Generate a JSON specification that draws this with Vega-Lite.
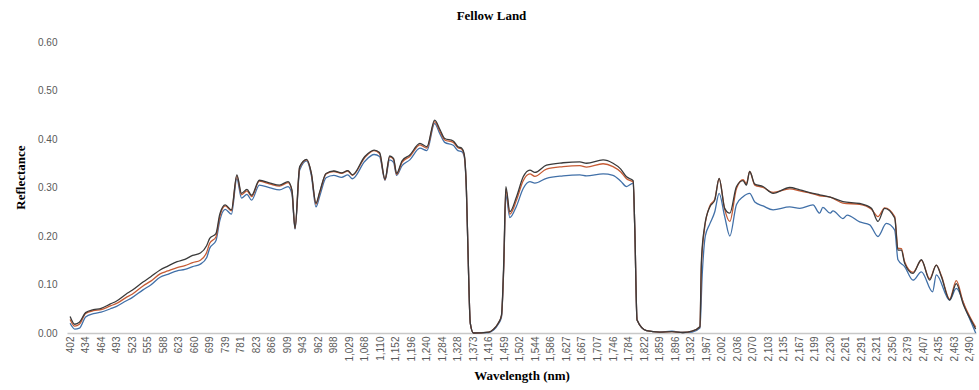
{
"$schema":"https://vega.github.io/schema/vega-lite/v6.json",
"width":909,"height":291,
"autosize":{"type":"none"},
"padding":{"left":67,"top":42,"right":3,"bottom":57},
"background":"white",
"title":{"text":"Fellow Land","font":"Liberation Serif","fontSize":13,"fontWeight":"bold","color":"#000000","offset":14,"dx":-30},
"datasets":{
"blue":[{"p":0,"r":0.020},{"p":0.3,"r":0.008},{"p":0.6,"r":0.010},{"p":1.0,"r":0.033},{"p":1.5,"r":0.040},{"p":2.0,"r":0.043},{"p":2.6,"r":0.050},{"p":3.0,"r":0.055},{"p":3.6,"r":0.066},{"p":4.0,"r":0.073},{"p":4.7,"r":0.089},{"p":5.2,"r":0.099},{"p":5.8,"r":0.115},{"p":6.3,"r":0.121},{"p":6.9,"r":0.128},{"p":7.4,"r":0.131},{"p":7.9,"r":0.137},{"p":8.4,"r":0.142},{"p":8.8,"r":0.155},{"p":9.0,"r":0.175},{"p":9.4,"r":0.190},{"p":9.65,"r":0.232},{"p":10.0,"r":0.255},{"p":10.4,"r":0.245},{"p":10.75,"r":0.318},{"p":11.05,"r":0.278},{"p":11.4,"r":0.286},{"p":11.7,"r":0.274},{"p":12.2,"r":0.305},{"p":12.9,"r":0.299},{"p":13.5,"r":0.295},{"p":14.05,"r":0.302},{"p":14.3,"r":0.287},{"p":14.5,"r":0.214},{"p":14.8,"r":0.336},{"p":15.25,"r":0.355},{"p":15.55,"r":0.325},{"p":15.85,"r":0.260},{"p":16.1,"r":0.283},{"p":16.5,"r":0.320},{"p":17.0,"r":0.325},{"p":17.5,"r":0.321},{"p":17.9,"r":0.326},{"p":18.2,"r":0.318},{"p":19.0,"r":0.354},{"p":19.6,"r":0.368},{"p":19.95,"r":0.364},{"p":20.3,"r":0.315},{"p":20.6,"r":0.357},{"p":20.85,"r":0.352},{"p":21.05,"r":0.325},{"p":21.4,"r":0.345},{"p":21.9,"r":0.357},{"p":22.55,"r":0.381},{"p":23.0,"r":0.376},{"p":23.5,"r":0.432},{"p":23.85,"r":0.410},{"p":24.15,"r":0.393},{"p":24.7,"r":0.387},{"p":25.0,"r":0.376},{"p":25.25,"r":0.374},{"p":25.4,"r":0.365},{"p":25.55,"r":0.29},{"p":25.65,"r":0.17},{"p":25.8,"r":0.02},{"p":26.0,"r":0.0},{"p":27.0,"r":0.001},{"p":27.3,"r":0.006},{"p":27.6,"r":0.018},{"p":27.81,"r":0.033},{"p":27.96,"r":0.14},{"p":28.09,"r":0.285},{"p":28.35,"r":0.238},{"p":28.78,"r":0.262},{"p":29.21,"r":0.298},{"p":29.64,"r":0.312},{"p":29.96,"r":0.309},{"p":30.71,"r":0.319},{"p":31.78,"r":0.324},{"p":32.86,"r":0.326},{"p":33.29,"r":0.324},{"p":34.36,"r":0.328},{"p":35.0,"r":0.325},{"p":35.5,"r":0.313},{"p":35.87,"r":0.302},{"p":36.3,"r":0.309},{"p":36.4,"r":0.219},{"p":36.55,"r":0.027},{"p":37.16,"r":0.005},{"p":38.0,"r":0.002},{"p":38.8,"r":0.004},{"p":39.5,"r":0.001},{"p":40.1,"r":0.002},{"p":40.6,"r":0.01},{"p":40.75,"r":0.12},{"p":40.95,"r":0.2},{"p":41.24,"r":0.225},{"p":41.56,"r":0.25},{"p":41.84,"r":0.288},{"p":42.2,"r":0.24},{"p":42.53,"r":0.2},{"p":42.96,"r":0.265},{"p":43.38,"r":0.281},{"p":43.81,"r":0.288},{"p":44.14,"r":0.27},{"p":44.67,"r":0.262},{"p":45.32,"r":0.254},{"p":46.39,"r":0.26},{"p":47.04,"r":0.257},{"p":47.89,"r":0.264},{"p":48.32,"r":0.247},{"p":48.53,"r":0.259},{"p":49.0,"r":0.247},{"p":49.18,"r":0.252},{"p":49.82,"r":0.236},{"p":50.1,"r":0.243},{"p":50.9,"r":0.229},{"p":51.55,"r":0.223},{"p":52.08,"r":0.199},{"p":52.62,"r":0.226},{"p":53.16,"r":0.212},{"p":53.37,"r":0.151},{"p":53.8,"r":0.137},{"p":54.34,"r":0.109},{"p":54.88,"r":0.126},{"p":55.6,"r":0.085},{"p":55.84,"r":0.120},{"p":56.7,"r":0.068},{"p":57.13,"r":0.092},{"p":57.77,"r":0.046},{"p":58.38,"r":0.0}],
"orange":[{"p":0,"r":0.028},{"p":0.3,"r":0.014},{"p":0.6,"r":0.018},{"p":1.0,"r":0.040},{"p":1.5,"r":0.046},{"p":2.0,"r":0.048},{"p":2.6,"r":0.056},{"p":3.0,"r":0.061},{"p":3.6,"r":0.073},{"p":4.0,"r":0.080},{"p":4.7,"r":0.097},{"p":5.2,"r":0.107},{"p":5.8,"r":0.122},{"p":6.3,"r":0.128},{"p":6.9,"r":0.135},{"p":7.4,"r":0.139},{"p":7.9,"r":0.145},{"p":8.4,"r":0.150},{"p":8.8,"r":0.166},{"p":9.0,"r":0.185},{"p":9.4,"r":0.198},{"p":9.65,"r":0.240},{"p":10.0,"r":0.262},{"p":10.4,"r":0.252},{"p":10.75,"r":0.324},{"p":11.05,"r":0.285},{"p":11.4,"r":0.293},{"p":11.7,"r":0.281},{"p":12.2,"r":0.313},{"p":12.9,"r":0.307},{"p":13.5,"r":0.303},{"p":14.05,"r":0.310},{"p":14.3,"r":0.293},{"p":14.5,"r":0.216},{"p":14.8,"r":0.341},{"p":15.25,"r":0.357},{"p":15.55,"r":0.329},{"p":15.85,"r":0.266},{"p":16.1,"r":0.290},{"p":16.5,"r":0.328},{"p":17.0,"r":0.333},{"p":17.5,"r":0.329},{"p":17.9,"r":0.334},{"p":18.2,"r":0.325},{"p":19.0,"r":0.362},{"p":19.6,"r":0.376},{"p":19.95,"r":0.370},{"p":20.3,"r":0.316},{"p":20.6,"r":0.363},{"p":20.85,"r":0.358},{"p":21.05,"r":0.327},{"p":21.4,"r":0.352},{"p":21.9,"r":0.364},{"p":22.55,"r":0.388},{"p":23.0,"r":0.381},{"p":23.5,"r":0.436},{"p":23.85,"r":0.415},{"p":24.15,"r":0.398},{"p":24.7,"r":0.393},{"p":25.0,"r":0.382},{"p":25.25,"r":0.379},{"p":25.4,"r":0.368},{"p":25.55,"r":0.293},{"p":25.65,"r":0.17},{"p":25.8,"r":0.02},{"p":26.0,"r":0.0},{"p":27.0,"r":0.002},{"p":27.3,"r":0.008},{"p":27.6,"r":0.02},{"p":27.81,"r":0.036},{"p":27.96,"r":0.14},{"p":28.09,"r":0.296},{"p":28.35,"r":0.245},{"p":28.78,"r":0.274},{"p":29.21,"r":0.314},{"p":29.64,"r":0.328},{"p":29.96,"r":0.323},{"p":30.71,"r":0.338},{"p":31.78,"r":0.343},{"p":32.86,"r":0.345},{"p":33.29,"r":0.342},{"p":34.36,"r":0.349},{"p":35.0,"r":0.343},{"p":35.5,"r":0.332},{"p":35.87,"r":0.318},{"p":36.3,"r":0.311},{"p":36.4,"r":0.219},{"p":36.55,"r":0.027},{"p":37.16,"r":0.005},{"p":38.0,"r":0.002},{"p":38.8,"r":0.003},{"p":39.5,"r":0.001},{"p":40.1,"r":0.004},{"p":40.6,"r":0.013},{"p":40.7,"r":0.14},{"p":40.9,"r":0.215},{"p":41.24,"r":0.262},{"p":41.56,"r":0.276},{"p":41.84,"r":0.318},{"p":42.2,"r":0.255},{"p":42.53,"r":0.23},{"p":42.96,"r":0.298},{"p":43.38,"r":0.316},{"p":43.6,"r":0.308},{"p":43.81,"r":0.333},{"p":44.14,"r":0.305},{"p":44.67,"r":0.300},{"p":45.32,"r":0.290},{"p":46.39,"r":0.297},{"p":47.04,"r":0.293},{"p":47.89,"r":0.287},{"p":48.32,"r":0.283},{"p":49.0,"r":0.280},{"p":49.82,"r":0.268},{"p":50.9,"r":0.265},{"p":51.66,"r":0.255},{"p":52.08,"r":0.24},{"p":52.51,"r":0.258},{"p":53.16,"r":0.24},{"p":53.37,"r":0.175},{"p":53.59,"r":0.174},{"p":53.8,"r":0.147},{"p":54.34,"r":0.125},{"p":54.88,"r":0.150},{"p":55.41,"r":0.112},{"p":55.84,"r":0.140},{"p":56.17,"r":0.118},{"p":56.7,"r":0.07},{"p":57.13,"r":0.108},{"p":57.56,"r":0.065},{"p":58.2,"r":0.022},{"p":58.38,"r":0.012}],
"black":[{"p":0,"r":0.034},{"p":0.3,"r":0.018},{"p":0.6,"r":0.022},{"p":1.0,"r":0.042},{"p":1.5,"r":0.048},{"p":2.0,"r":0.051},{"p":2.6,"r":0.060},{"p":3.0,"r":0.066},{"p":3.6,"r":0.080},{"p":4.0,"r":0.088},{"p":4.7,"r":0.105},{"p":5.2,"r":0.116},{"p":5.8,"r":0.130},{"p":6.3,"r":0.138},{"p":6.9,"r":0.147},{"p":7.4,"r":0.152},{"p":7.9,"r":0.160},{"p":8.4,"r":0.165},{"p":8.8,"r":0.180},{"p":9.0,"r":0.195},{"p":9.4,"r":0.205},{"p":9.65,"r":0.245},{"p":10.0,"r":0.264},{"p":10.4,"r":0.254},{"p":10.75,"r":0.326},{"p":11.05,"r":0.288},{"p":11.4,"r":0.296},{"p":11.7,"r":0.284},{"p":12.2,"r":0.315},{"p":12.9,"r":0.309},{"p":13.5,"r":0.305},{"p":14.05,"r":0.312},{"p":14.3,"r":0.295},{"p":14.5,"r":0.216},{"p":14.8,"r":0.343},{"p":15.25,"r":0.358},{"p":15.55,"r":0.33},{"p":15.85,"r":0.268},{"p":16.1,"r":0.292},{"p":16.5,"r":0.329},{"p":17.0,"r":0.334},{"p":17.5,"r":0.330},{"p":17.9,"r":0.335},{"p":18.2,"r":0.326},{"p":19.0,"r":0.364},{"p":19.6,"r":0.377},{"p":19.95,"r":0.372},{"p":20.3,"r":0.317},{"p":20.6,"r":0.365},{"p":20.85,"r":0.360},{"p":21.05,"r":0.329},{"p":21.4,"r":0.355},{"p":21.9,"r":0.367},{"p":22.55,"r":0.391},{"p":23.0,"r":0.384},{"p":23.5,"r":0.439},{"p":23.85,"r":0.419},{"p":24.15,"r":0.401},{"p":24.7,"r":0.396},{"p":25.0,"r":0.384},{"p":25.25,"r":0.381},{"p":25.4,"r":0.370},{"p":25.55,"r":0.295},{"p":25.65,"r":0.17},{"p":25.8,"r":0.02},{"p":26.0,"r":0.0},{"p":27.0,"r":0.002},{"p":27.3,"r":0.008},{"p":27.6,"r":0.02},{"p":27.81,"r":0.037},{"p":27.96,"r":0.15},{"p":28.09,"r":0.302},{"p":28.35,"r":0.25},{"p":28.78,"r":0.281},{"p":29.21,"r":0.322},{"p":29.64,"r":0.336},{"p":29.96,"r":0.331},{"p":30.71,"r":0.346},{"p":31.78,"r":0.351},{"p":32.86,"r":0.353},{"p":33.29,"r":0.350},{"p":34.36,"r":0.357},{"p":35.0,"r":0.350},{"p":35.5,"r":0.338},{"p":35.87,"r":0.322},{"p":36.3,"r":0.314},{"p":36.4,"r":0.219},{"p":36.55,"r":0.027},{"p":37.16,"r":0.005},{"p":38.0,"r":0.002},{"p":38.8,"r":0.003},{"p":39.5,"r":0.001},{"p":40.1,"r":0.004},{"p":40.6,"r":0.013},{"p":40.7,"r":0.15},{"p":40.9,"r":0.219},{"p":41.24,"r":0.26},{"p":41.56,"r":0.274},{"p":41.84,"r":0.319},{"p":42.2,"r":0.257},{"p":42.53,"r":0.247},{"p":42.96,"r":0.302},{"p":43.38,"r":0.314},{"p":43.6,"r":0.305},{"p":43.81,"r":0.333},{"p":44.14,"r":0.307},{"p":44.67,"r":0.302},{"p":45.32,"r":0.288},{"p":46.39,"r":0.300},{"p":47.04,"r":0.295},{"p":47.89,"r":0.288},{"p":48.32,"r":0.285},{"p":49.0,"r":0.280},{"p":49.82,"r":0.271},{"p":50.9,"r":0.267},{"p":51.66,"r":0.257},{"p":52.08,"r":0.23},{"p":52.51,"r":0.257},{"p":53.16,"r":0.237},{"p":53.37,"r":0.171},{"p":53.59,"r":0.171},{"p":53.8,"r":0.144},{"p":54.34,"r":0.123},{"p":54.88,"r":0.151},{"p":55.41,"r":0.109},{"p":55.84,"r":0.140},{"p":56.17,"r":0.116},{"p":56.7,"r":0.068},{"p":57.13,"r":0.102},{"p":57.56,"r":0.061},{"p":58.2,"r":0.019},{"p":58.38,"r":0.008}]
},
"encoding":{
 "x":{"field":"p","type":"quantitative","scale":{"domain":[-0.2,58.4],"nice":false,"zero":false},
  "axis":{"values":[0,1,2,3,4,5,6,7,8,9,10,11,12,13,14,15,16,17,18,19,20,21,22,23,24,25,26,27,28,29,30,31,32,33,34,35,36,37,38,39,40,41,42,43,44,45,46,47,48,49,50,51,52,53,54,55,56,57,58],
   "labelExpr":"['402','434','464','493','523','555','588','623','660','699','739','781','823','866','909','943','962','988','1,029','1,068','1,110','1,152','1,196','1,240','1,284','1,328','1,373','1,416','1,459','1,502','1,544','1,586','1,627','1,667','1,707','1,746','1,784','1,822','1,859','1,896','1,932','1,967','2,002','2,036','2,070','2,103','2,135','2,167','2,199','2,230','2,261','2,291','2,321','2,350','2,379','2,407','2,435','2,463','2,490'][datum.value]",
   "labelAngle":-90,"labelAlign":"right","labelBaseline":"middle","labelFont":"Liberation Sans","labelFontSize":10,"labelColor":"#595959","labelPadding":3,"labelOverlap":false,"labelFlush":false,"labelBound":false,
   "ticks":false,"grid":false,"domainColor":"#C8C8C8","domainWidth":1.5,
   "title":"Wavelength (nm)","titleFont":"Liberation Serif","titleFontSize":13,"titleFontWeight":"bold","titleColor":"#000000","titlePadding":8}},
 "y":{"field":"r","type":"quantitative","scale":{"domain":[0,0.6],"nice":false},
  "axis":{"values":[0,0.1,0.2,0.3,0.4,0.5,0.6],"format":".2f","labelFont":"Liberation Sans","labelFontSize":10,"labelColor":"#595959","labelPadding":10,
   "ticks":false,"grid":false,"domain":false,
   "title":"Reflectance","titleFont":"Liberation Serif","titleFontSize":13,"titleFontWeight":"bold","titleColor":"#000000","titleX":-47,"titleY":135,"titleAngle":-90,"titleAlign":"center","titleBaseline":"middle"}}
},
"layer":[
{"data":{"name":"blue"},"mark":{"type":"line","strokeWidth":1.3,"interpolate":"monotone","color":"#4170A8"}},
{"data":{"name":"orange"},"mark":{"type":"line","strokeWidth":1.3,"interpolate":"monotone","color":"#C65B34"}},
{"data":{"name":"black"},"mark":{"type":"line","strokeWidth":1.3,"interpolate":"monotone","color":"#3A3A3A"}}
],
"config":{"view":{"stroke":null}}
}
